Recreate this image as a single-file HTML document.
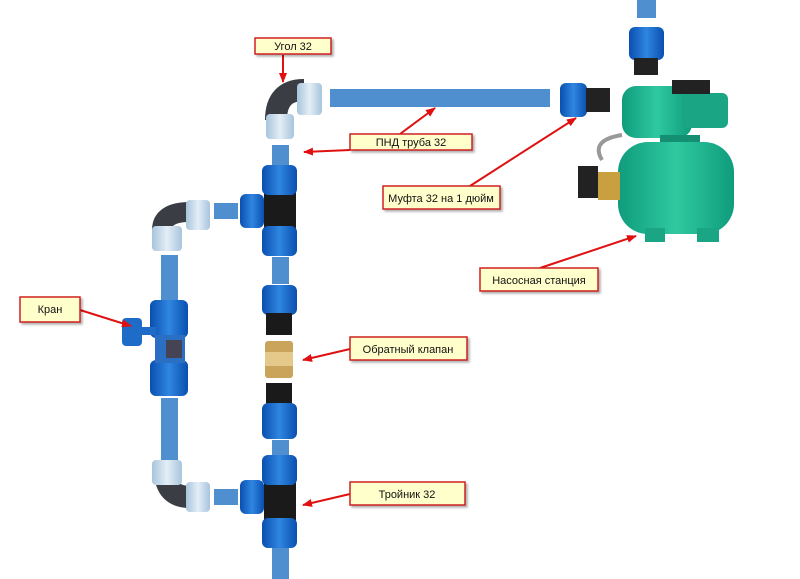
<!DOCTYPE html>
<html><head><meta charset="utf-8"><style>
body{margin:0;background:#fff;width:800px;height:579px;overflow:hidden}
svg{display:block}
text{font-family:"Liberation Sans",sans-serif;font-size:11px;fill:#111}
</style></head><body>
<svg width="800" height="579" viewBox="0 0 800 579">
<defs>
<marker id="ar" markerWidth="10" markerHeight="8" refX="9" refY="4" orient="auto" markerUnits="userSpaceOnUse"><path d="M0,0 L10,4 L0,8 z" fill="#e01010"/></marker>
<linearGradient id="bl" x1="0" x2="1"><stop offset="0" stop-color="#0a4fb0"/><stop offset=".5" stop-color="#2f86e0"/><stop offset="1" stop-color="#0a4fb0"/></linearGradient>
<linearGradient id="lb" x1="0" x2="1"><stop offset="0" stop-color="#a8c4dc"/><stop offset=".5" stop-color="#e4eef7"/><stop offset="1" stop-color="#a8c4dc"/></linearGradient>
<linearGradient id="gr" x1="0" x2="1"><stop offset="0" stop-color="#0f9c7c"/><stop offset=".5" stop-color="#2fc9a0"/><stop offset="1" stop-color="#0f9c7c"/></linearGradient>
</defs>
<g fill="#4f8fcf">
<rect x="637" y="0" width="19" height="18"/>
<rect x="330" y="89" width="220" height="18"/>
<rect x="272" y="145" width="17" height="20"/>
<rect x="272" y="257" width="17" height="27"/>
<rect x="272" y="440" width="17" height="15"/>
<rect x="272" y="548" width="17" height="31"/>
<rect x="214" y="203" width="24" height="16"/>
<rect x="214" y="489" width="24" height="16"/>
<rect x="161" y="255" width="17" height="45"/>
<rect x="161" y="398" width="17" height="62"/>
</g>
<!-- top coupling -->
<rect x="629" y="27" width="35" height="33" rx="6" fill="url(#bl)"/>
<rect x="634" y="58" width="24" height="17" fill="#222"/>
<!-- left coupling of pump -->
<rect x="560" y="83" width="27" height="34" rx="6" fill="url(#bl)"/>
<rect x="586" y="88" width="24" height="24" fill="#222"/>
<!-- pump -->
<rect x="622" y="86" width="70" height="52" rx="14" fill="url(#gr)"/>
<rect x="682" y="93" width="46" height="35" rx="6" fill="#1aa584"/>
<rect x="672" y="80" width="38" height="14" fill="#222"/>
<rect x="660" y="135" width="40" height="15" fill="#148f71"/>
<rect x="618" y="142" width="116" height="92" rx="30" fill="url(#gr)"/>
<rect x="645" y="228" width="20" height="14" fill="#1aa584"/><rect x="697" y="228" width="22" height="14" fill="#1aa584"/>
<rect x="578" y="166" width="20" height="32" fill="#222"/>
<rect x="598" y="172" width="22" height="28" fill="#c8a040"/>
<path d="M602 160 Q590 140 622 135" stroke="#999" stroke-width="4" fill="none"/>
<!-- top elbow -->
<path d="M276 120 Q276 90 304 90" stroke="#3a3d44" stroke-width="22" fill="none"/>
<rect x="297" y="83" width="25" height="32" rx="4" fill="url(#lb)"/>
<rect x="266" y="114" width="28" height="25" rx="4" fill="url(#lb)"/>
<!-- top tee -->
<rect x="264" y="172" width="32" height="72" fill="#1a1a1a"/>
<rect x="262" y="165" width="35" height="30" rx="6" fill="url(#bl)"/>
<rect x="262" y="226" width="35" height="30" rx="6" fill="url(#bl)"/>
<rect x="240" y="194" width="24" height="34" rx="6" fill="url(#bl)"/>
<!-- upper-left elbow -->
<path d="M162 230 Q162 212 190 212" stroke="#3a3d44" stroke-width="20" fill="none"/>
<rect x="186" y="200" width="24" height="30" rx="4" fill="url(#lb)"/>
<rect x="152" y="226" width="30" height="25" rx="4" fill="url(#lb)"/>
<!-- valve -->
<rect x="150" y="300" width="38" height="38" rx="6" fill="url(#bl)"/>
<rect x="150" y="360" width="38" height="36" rx="6" fill="url(#bl)"/>
<rect x="155" y="335" width="30" height="28" fill="#2a6fc4"/>
<rect x="166" y="340" width="16" height="18" fill="#445"/>
<rect x="136" y="327" width="20" height="8" fill="#1f6bc8"/>
<rect x="122" y="318" width="20" height="28" rx="4" fill="#1f6bc8"/>
<!-- check valve group -->
<rect x="262" y="285" width="35" height="30" rx="6" fill="url(#bl)"/>
<rect x="266" y="313" width="26" height="22" fill="#1a1a1a"/>
<rect x="265" y="341" width="28" height="37" rx="3" fill="#c9a45a"/>
<rect x="265" y="352" width="28" height="14" fill="#e5c98a"/>
<rect x="266" y="383" width="26" height="22" fill="#1a1a1a"/>
<rect x="262" y="403" width="35" height="36" rx="6" fill="url(#bl)"/>
<!-- bottom elbow -->
<path d="M165 470 Q165 497 190 497" stroke="#3a3d44" stroke-width="22" fill="none"/>
<rect x="152" y="460" width="30" height="25" rx="4" fill="url(#lb)"/>
<rect x="186" y="482" width="24" height="30" rx="4" fill="url(#lb)"/>
<!-- bottom tee -->
<rect x="264" y="465" width="32" height="72" fill="#1a1a1a"/>
<rect x="262" y="455" width="35" height="30" rx="6" fill="url(#bl)"/>
<rect x="262" y="518" width="35" height="30" rx="6" fill="url(#bl)"/>
<rect x="240" y="480" width="24" height="34" rx="6" fill="url(#bl)"/>
<!-- arrows -->
<g stroke="#e01010" stroke-width="2" fill="none" marker-end="url(#ar)">
<line x1="283" y1="55" x2="283" y2="82"/>
<line x1="350" y1="150" x2="304" y2="152"/>
<line x1="400" y1="134" x2="435" y2="108"/>
<line x1="470" y1="186" x2="576" y2="118"/>
<line x1="540" y1="268" x2="636" y2="236"/>
<line x1="80" y1="310" x2="131" y2="326"/>
<line x1="350" y1="349" x2="303" y2="360"/>
<line x1="350" y1="494" x2="303" y2="505"/>
</g>
<!-- labels -->
<g fill="#ffffcc" stroke="#d02020" stroke-width="1.5" style="filter:drop-shadow(2px 2px 1px rgba(0,0,0,.3))">
<rect x="255" y="38" width="76" height="16"/>
<rect x="350" y="134" width="122" height="16"/>
<rect x="383" y="186" width="117" height="23"/>
<rect x="480" y="268" width="118" height="23"/>
<rect x="20" y="297" width="60" height="25"/>
<rect x="350" y="337" width="117" height="23"/>
<rect x="350" y="482" width="115" height="23"/>
</g>
<text x="293" y="50" text-anchor="middle">Угол 32</text>
<text x="411" y="146" text-anchor="middle">ПНД труба 32</text>
<text x="441" y="202" text-anchor="middle">Муфта 32 на 1 дюйм</text>
<text x="539" y="284" text-anchor="middle">Насосная станция</text>
<text x="50" y="313" text-anchor="middle">Кран</text>
<text x="408" y="353" text-anchor="middle">Обратный клапан</text>
<text x="407" y="498" text-anchor="middle">Тройник 32</text>
</svg>
</body></html>
